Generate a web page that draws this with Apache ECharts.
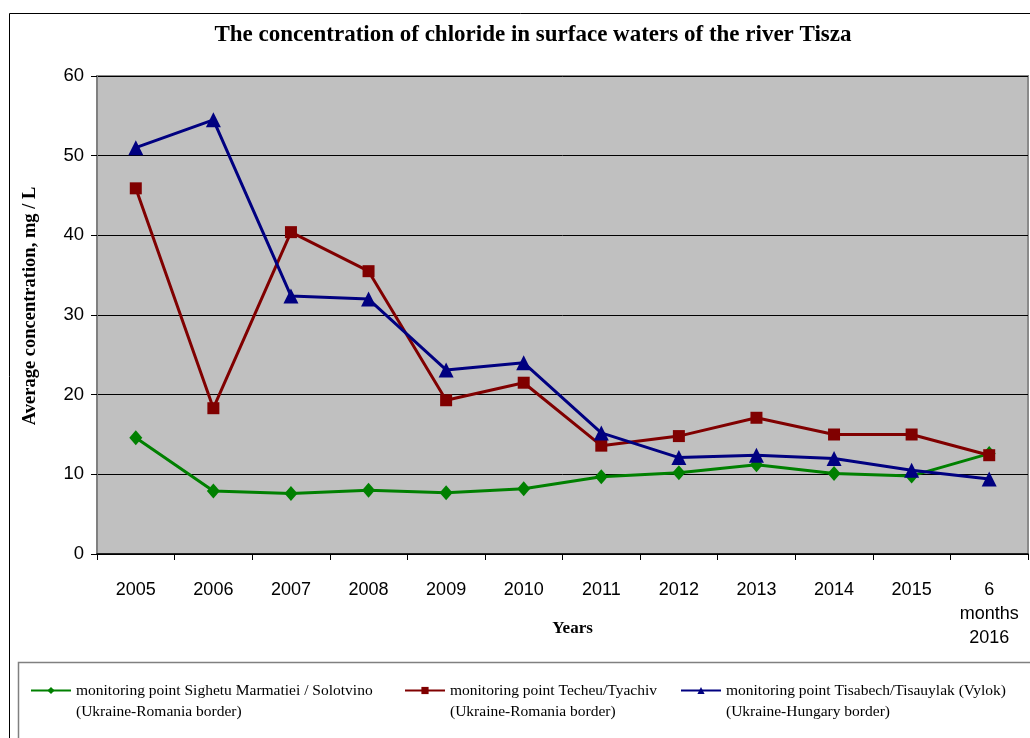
<!DOCTYPE html>
<html>
<head>
<meta charset="utf-8">
<title>Chloride concentration, river Tisza</title>
<script src="https://cdn.jsdelivr.net/npm/echarts@6/dist/echarts.min.js"></script>
<style>
  html, body { margin: 0; padding: 0; background: #fff; }
  #chart { width: 1030px; height: 738px; }
</style>
</head>
<body>
<div id="chart"></div>
<script>
// Years (last one is a half-year figure)
const years = ['2005', '2006', '2007', '2008', '2009', '2010', '2011', '2012', '2013', '2014', '2015', '6\nmonths\n2016'];

// Average chloride concentration, mg/L, per monitoring point
const solotvino = [14.6, 7.9, 7.6, 8.0, 7.7, 8.2, 9.7, 10.2, 11.2, 10.1, 9.8, 12.6];
const tyachiv   = [45.9, 18.3, 40.4, 35.5, 19.3, 21.5, 13.6, 14.8, 17.1, 15.0, 15.0, 12.4];
const vylok     = [51.0, 54.5, 32.4, 32.0, 23.1, 24.0, 15.2, 12.1, 12.4, 12.0, 10.5, 9.4];

// Series names and the border each point sits on
const pointNames = [
  'monitoring point Sighetu Marmatiei / Solotvino',
  'monitoring point Techeu/Tyachiv',
  'monitoring point Tisabech/Tisauylak (Vylok)'
];
const borders = [
  '(Ukraine-Romania border)',
  '(Ukraine-Romania border)',
  '(Ukraine-Hungary border)'
];

// Y axis range
const yMin = 0, yMax = 60, yStep = 10;

const serif = '"Liberation Serif", "Times New Roman", serif';
const sans = '"Liberation Sans", Arial, sans-serif';

const chart = echarts.init(document.getElementById('chart'), null, { renderer: 'canvas' });

// One legend per series so each entry sits at its own spot; a blank first
// line keeps the icon level with the name while the border note hangs below.
function legendFor(idx, left) {
  return {
    data: [pointNames[idx]],
    left: left,
    top: 659,
    padding: 0,
    itemWidth: 40,
    itemHeight: 9,
    itemGap: 0,
    formatter: (name) => ' \n' + name + '\n' + borders[pointNames.indexOf(name)],
    textStyle: {
      fontFamily: serif,
      fontSize: 15.5,
      color: '#000',
      lineHeight: 21
    }
  };
}

const colors = ['#008000', '#800000', '#000080'];
const symbols = ['diamond', 'rect', 'triangle'];
const symbolSizes = [[13, 15], 12, 15];
const values = [solotvino, tyachiv, vylok];

chart.setOption({
  animation: false,
  backgroundColor: '#fff',
  title: {
    text: 'The concentration of chloride in surface waters of the river Tisza',
    left: 528,
    textAlign: 'center',
    top: 19,
    textStyle: { fontFamily: serif, fontWeight: 'bold', fontSize: 23, color: '#000' }
  },
  graphic: [
    {
      type: 'rect', z: -1, silent: true,
      shape: { x: 9.5, y: 13.5, width: 1100, height: 800 },
      style: { fill: 'none', stroke: '#000', lineWidth: 1 }
    },
    {
      type: 'rect', z: -1, silent: true,
      shape: { x: 18.5, y: 662.5, width: 1100, height: 200 },
      style: { fill: 'none', stroke: '#808080', lineWidth: 1.5 }
    }
  ],
  legend: [legendFor(0, 30), legendFor(1, 404), legendFor(2, 680)],
  grid: {
    left: 97, right: 2, top: 76, bottom: 184,
    show: true,
    backgroundColor: '#C0C0C0',
    borderColor: '#8a8a8a',
    borderWidth: 2
  },
  xAxis: {
    type: 'category',
    data: years,
    boundaryGap: true,
    name: 'Years',
    nameLocation: 'middle',
    nameGap: 66,
    nameMoveOverlap: false,
    nameTextStyle: {
      fontFamily: serif, fontWeight: 'bold', fontSize: 17, color: '#000',
      padding: [0, 0, 0, 20]
    },
    axisLine: { lineStyle: { color: '#000', width: 1.5 } },
    axisTick: { show: true, length: 6, lineStyle: { color: '#000' } },
    axisLabel: {
      fontFamily: sans, fontSize: 18, color: '#000', margin: 24, lineHeight: 24,
      interval: 0
    },
    splitLine: { show: false }
  },
  yAxis: {
    type: 'value',
    min: yMin, max: yMax, interval: yStep,
    name: 'Average concentration, mg / L',
    nameLocation: 'middle',
    nameGap: 57,
    nameMoveOverlap: false,
    nameTextStyle: {
      fontFamily: serif, fontWeight: 'bold', fontSize: 18.5, color: '#000',
      padding: [0, 0, 0, 18]
    },
    axisLine: { show: true, lineStyle: { color: '#808080', width: 2 } },
    axisTick: { show: true, length: 6, lineStyle: { color: '#000' } },
    axisLabel: { fontFamily: sans, fontSize: 18.5, color: '#000', margin: 13 },
    splitLine: { show: true, lineStyle: { color: '#000', width: 1 } }
  },
  series: values.map((v, i) => ({
    name: pointNames[i],
    type: 'line',
    data: v,
    symbol: symbols[i],
    symbolSize: symbolSizes[i],
    showAllSymbol: true,
    lineStyle: { color: colors[i], width: 3 },
    itemStyle: { color: colors[i], borderWidth: 0 },
    z: 2 + i
  }))
});
</script>
</body>
</html>
